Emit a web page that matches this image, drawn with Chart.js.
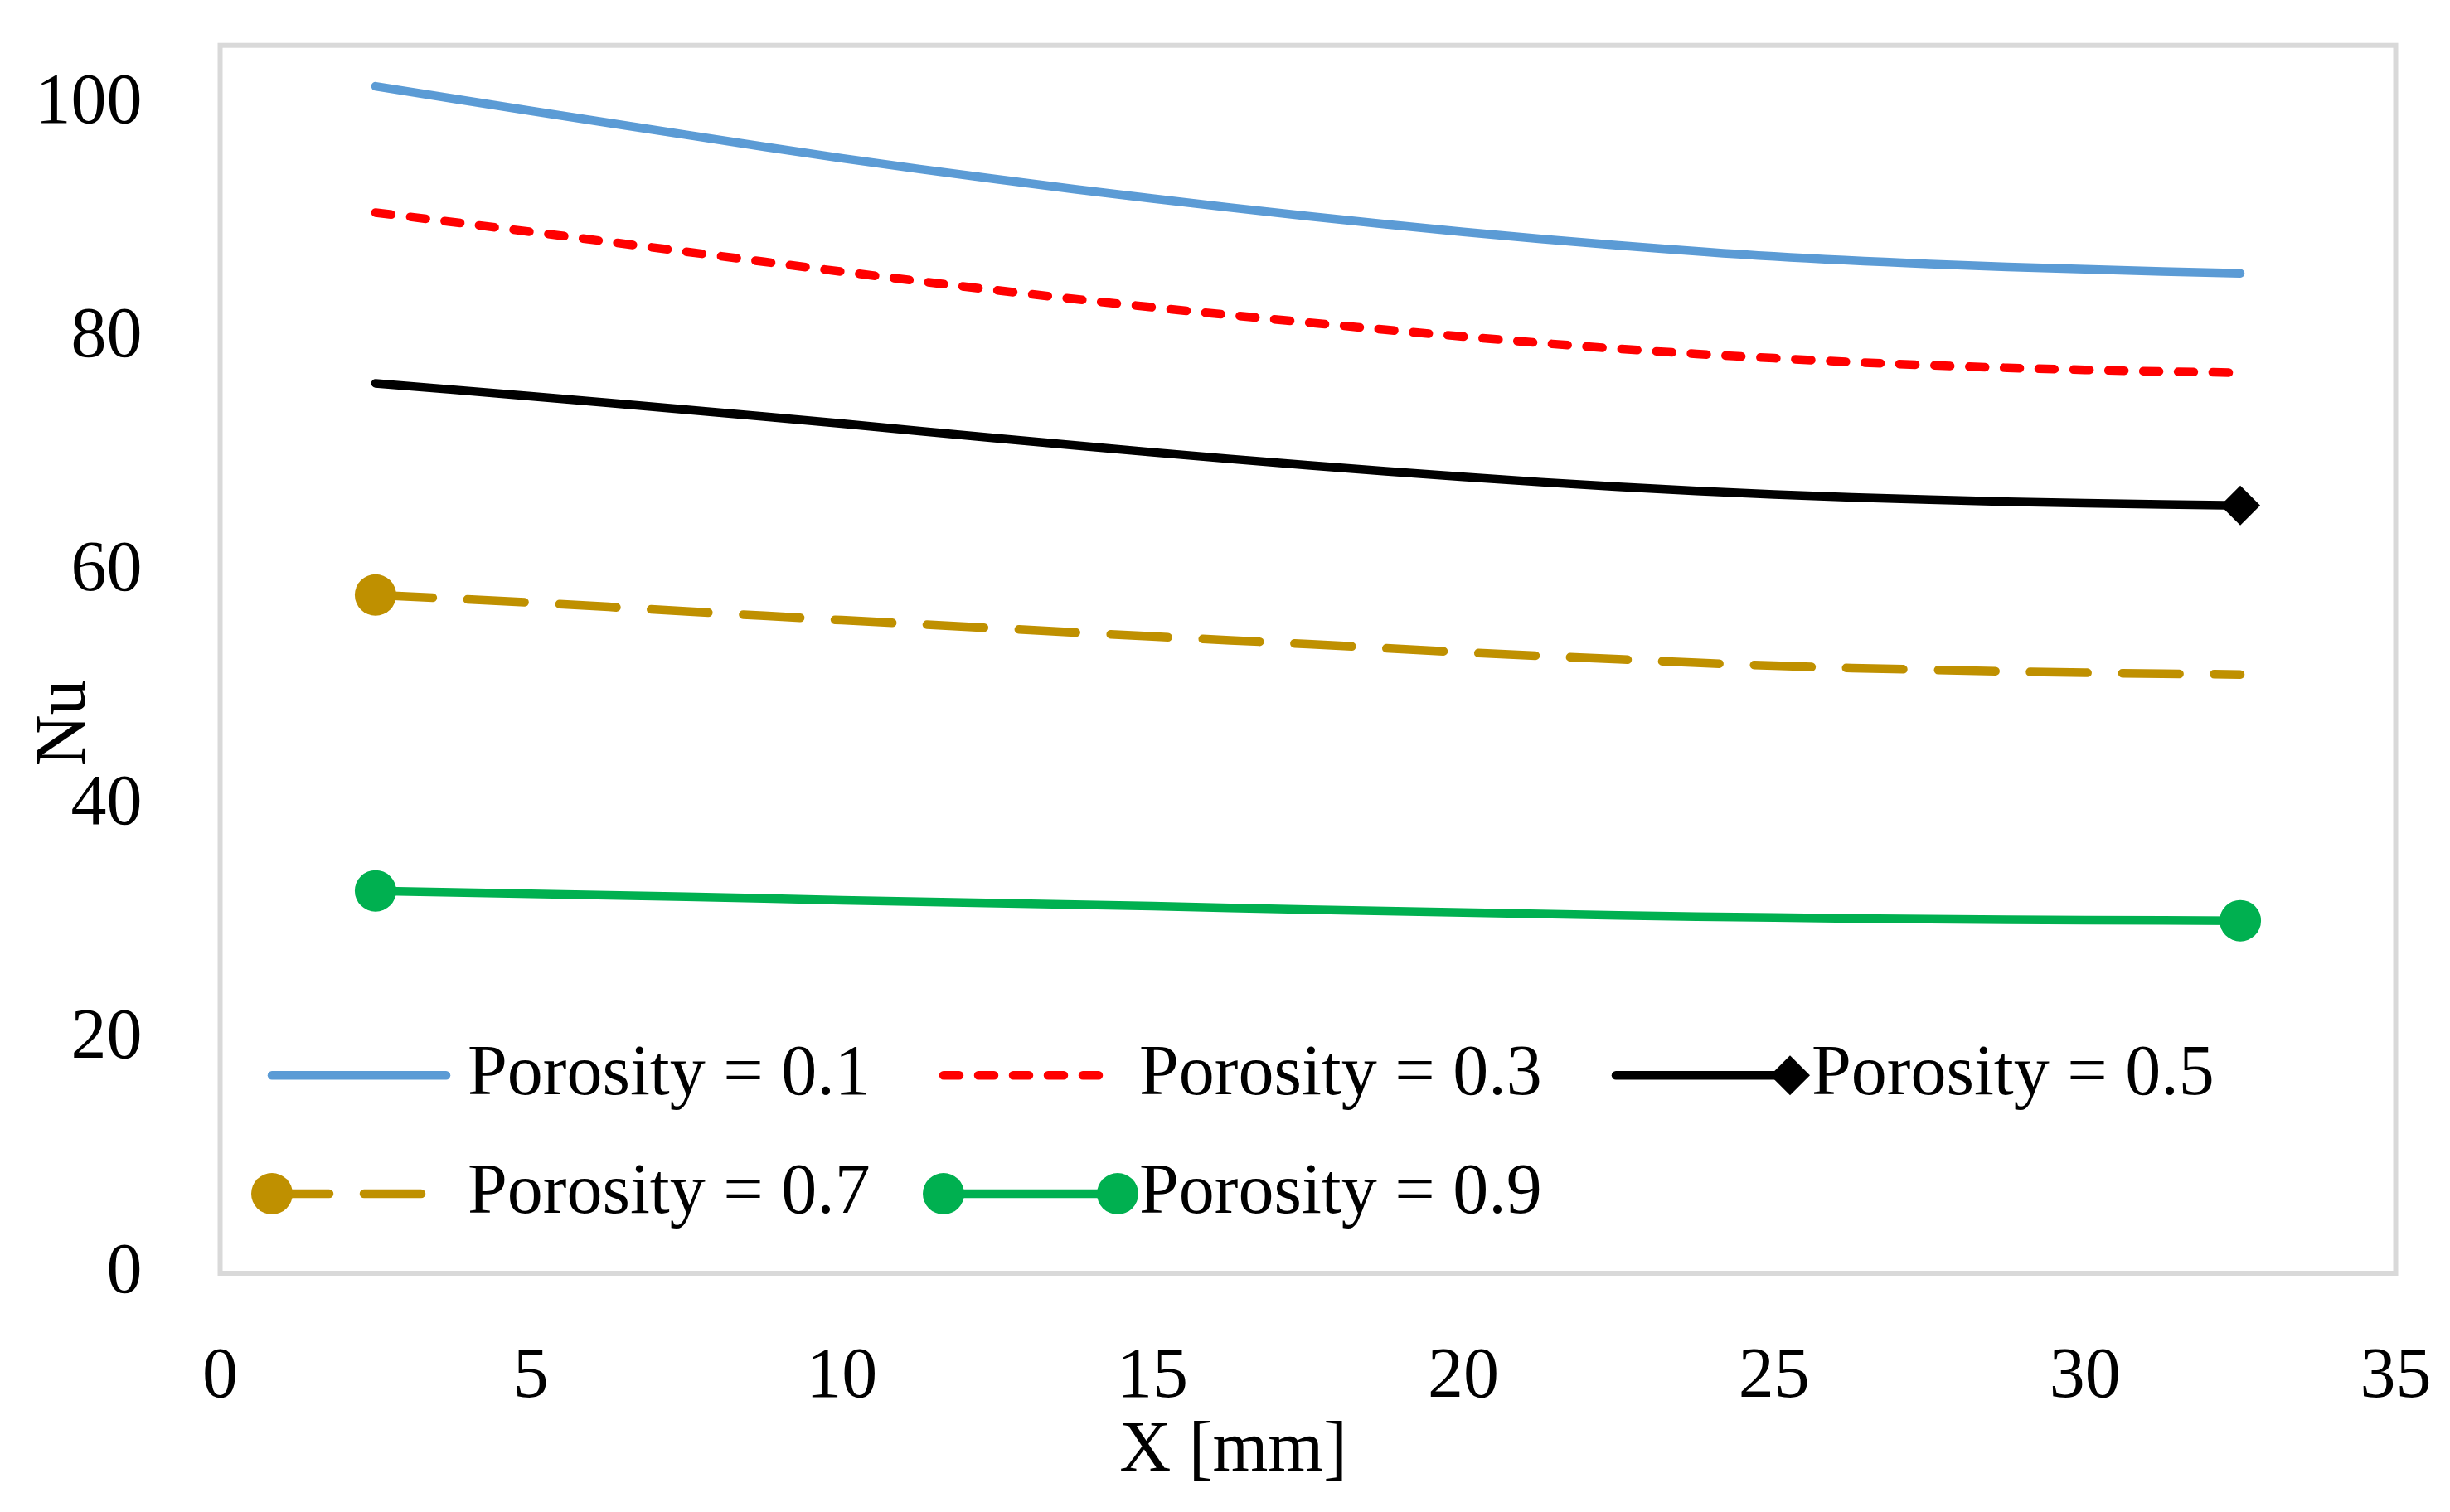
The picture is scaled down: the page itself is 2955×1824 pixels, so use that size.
<!DOCTYPE html>
<html><head><meta charset="utf-8">
<script src="https://cdn.jsdelivr.net/npm/chart.js@4.4.1/dist/chart.umd.min.js"></script>
<style>html,body{margin:0;padding:0;background:#fff;overflow:hidden}#wrap{position:relative;width:2955px;height:1824px}</style>
</head><body><div id="wrap"><canvas id="c"></canvas></div>
<script>
// ---- data ----
const xPositions   = [2.5, 5, 7.5, 10, 12.5, 15, 17.5, 20, 22.5, 25, 27.5, 30, 32.5];
const nuPorosity01 = [101.5, 99.4, 97.35, 95.35, 93.55, 91.9, 90.4, 89.05, 87.9, 86.95, 86.3, 85.85, 85.5];
const nuPorosity03 = [90.7, 89.05, 87.35, 85.65, 84.05, 82.6, 81.3, 80.1, 79.05, 78.25, 77.65, 77.25, 77.0];
const nuPorosity05 = [76.1, 75.0, 73.85, 72.65, 71.4, 70.2, 69.1, 68.1, 67.25, 66.6, 66.15, 65.85, 65.65];
const nuPorosity07 = [58.0, 57.35, 56.6, 55.85, 55.15, 54.45, 53.8, 53.1, 52.5, 51.95, 51.6, 51.35, 51.2];
const nuPorosity09 = [32.7, 32.45, 32.2, 31.9, 31.65, 31.4, 31.1, 30.85, 30.6, 30.42, 30.28, 30.2, 30.15];
const seriesLabels = ['Porosity = 0.1', 'Porosity = 0.3', 'Porosity = 0.5', 'Porosity = 0.7', 'Porosity = 0.9'];
const markerIdx01 = [];
const markerIdx03 = [];
const markerIdx05 = [12];
const markerIdx07 = [0];
const markerIdx09 = [0, 12];
const xTickValues = [0, 5, 10, 15, 20, 25, 30, 35];
const yTickValues = [0, 20, 40, 60, 80, 100];
const xAxisTitle = 'X [mm]';
const yAxisTitle = 'Nu';

// ---- styles ----
const FONT = '"Liberation Serif", "Times New Roman", serif';
const FSIZE = 86;
const LW = 10.5;

function pts(arr) { return xPositions.map((x, i) => ({ x: x, y: arr[i] })); }
function radiusFor(marks, r) { return ctx => marks.includes(ctx.dataIndex) ? r : 0; }

function makeDataset(label, values, color, dash, marks, style, r) {
  return {
    label: label,
    data: pts(values),
    borderColor: color,
    backgroundColor: color,
    borderWidth: LW,
    borderDash: dash,
    borderCapStyle: 'round',
    borderJoinStyle: 'round',
    tension: 0.4,
    pointStyle: style,
    pointRadius: radiusFor(marks, r),
    pointHoverRadius: radiusFor(marks, r),
    pointBackgroundColor: color,
    pointBorderWidth: 0,
    markers: marks,
    markerStyle: style,
    markerRadius: r
  };
}

const datasets = [
  makeDataset(seriesLabels[0], nuPorosity01, '#5B9BD5', [], markerIdx01, 'circle', 25),
  makeDataset(seriesLabels[1], nuPorosity03, '#FF0000', [19, 23], markerIdx03, 'circle', 25),
  makeDataset(seriesLabels[2], nuPorosity05, '#000000', [], markerIdx05, 'rectRot', 24),
  makeDataset(seriesLabels[3], nuPorosity07, '#BF9000', [69, 42], markerIdx07, 'circle', 25),
  makeDataset(seriesLabels[4], nuPorosity09, '#00B050', [], markerIdx09, 'circle', 25)
];

const framePlugin = {
  id: 'frame',
  beforeDatasetsDraw(chart) {
    const { ctx, chartArea: a } = chart;
    ctx.save();
    ctx.strokeStyle = '#D9D9D9';
    ctx.lineWidth = 6;
    ctx.strokeRect(a.left, a.top, a.right - a.left, a.bottom - a.top);
    ctx.restore();
  },
  afterDraw(chart) {
    const { ctx, chartArea: a } = chart;
    ctx.save();
    ctx.fillStyle = '#000';
    ctx.font = FSIZE + 'px ' + FONT;
    ctx.textBaseline = 'middle';
    // axis titles
    ctx.textAlign = 'center';
    ctx.fillText(xAxisTitle, a.left + 1222, a.bottom + 215);
    ctx.save();
    ctx.translate(79, a.bottom - 664);
    ctx.rotate(-Math.PI / 2);
    ctx.fillText(yAxisTitle, 0, 0);
    ctx.restore();
    // legend
    const colX = [62.5, 872.5, 1683.5];
    const rowY = [238.7, 96];
    const len = 210;
    chart.data.datasets.forEach((ds, i) => {
      const x0 = a.left + colX[i % 3];
      const y = a.bottom - rowY[Math.floor(i / 3)];
      ctx.save();
      ctx.strokeStyle = ds.borderColor;
      ctx.lineWidth = ds.borderWidth;
      ctx.lineCap = 'round';
      ctx.setLineDash(ds.borderDash || []);
      ctx.beginPath();
      ctx.moveTo(x0, y);
      ctx.lineTo(x0 + len, y);
      ctx.stroke();
      ctx.restore();
      const last = ds.data.length - 1;
      ctx.fillStyle = ds.borderColor;
      const popt = { pointStyle: ds.markerStyle, radius: ds.markerRadius, rotation: 0, borderWidth: 0 };
      if (ds.markers.includes(0)) Chart.helpers.drawPoint(ctx, popt, x0, y);
      if (ds.markers.includes(last)) Chart.helpers.drawPoint(ctx, popt, x0 + len, y);
      ctx.fillStyle = '#000';
      ctx.textAlign = 'left';
      ctx.fillText(ds.label, x0 + 236, y);
    });
    ctx.restore();
  }
};

function zeroPad(s) { s.paddingTop = 0; s.paddingBottom = 0; s.paddingLeft = 0; s.paddingRight = 0; }

new Chart(document.getElementById('c'), {
  type: 'line',
  data: { datasets: datasets },
  options: {
    responsive: true,
    maintainAspectRatio: false,
    devicePixelRatio: 1,
    animation: false,
    layout: { padding: { left: 0, right: 65.5, top: 54.7, bottom: 0 } },
    plugins: { legend: { display: false }, tooltip: { enabled: false } },
    scales: {
      x: {
        type: 'linear',
        min: 0, max: 35,
        grid: { display: false },
        border: { display: false },
        ticks: { stepSize: 5, padding: 67, color: '#000', font: { family: FONT, size: FSIZE, lineHeight: 1.2 }, maxRotation: 0 },
        afterBuildTicks: s => { s.ticks = xTickValues.map(v => ({ value: v })); },
        afterFit: s => { s.height = 288; zeroPad(s); }
      },
      y: {
        type: 'linear',
        min: 0, max: 105,
        grid: { display: false },
        border: { display: false },
        ticks: { stepSize: 20, padding: 86, color: '#000', font: { family: FONT, size: FSIZE, lineHeight: 1.2 } },
        afterBuildTicks: s => { s.ticks = yTickValues.map(v => ({ value: v })); },
        afterFit: s => { s.width = 265.5; zeroPad(s); }
      }
    }
  },
  plugins: [framePlugin]
});
</script></body></html>
